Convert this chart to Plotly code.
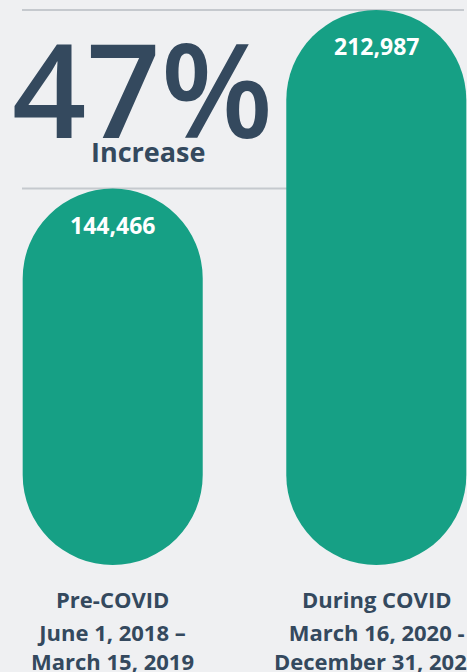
import plotly.graph_objects as go

# ---- data ----
categories = ["Pre-COVID", "During COVID"]
period_start = ["June 1, 2018 –", "March 16, 2020 -"]
period_end = ["March 15, 2019", "December 31, 2020"]
values = [144466, 212987]
value_labels = ["144,466", "212,987"]
increase_label = "47%"
increase_caption = "Increase"

# ---- style ----
GREEN = "#16a085"
DARK = "#34495e"
BG = "#eff0f2"
RULE = "#c5c9ce"
FONT = "Open Sans"
W, H = 467, 672

xpos = list(range(len(categories)))
vmax = max(values)
# pixel geometry of the value scale (bottom of bars at 565px, top of max at 10px)
bar_px = 555.0
ylo = -(H - 565) / bar_px * vmax
yhi = vmax + 10 / bar_px * vmax
BW = 0.683

fig = go.Figure()
fig.add_trace(go.Bar(
    x=xpos, y=values, base=[0 for _ in values],
    width=BW, marker=dict(color=GREEN, line=dict(width=0), cornerradius="50%"),
    hoverinfo="skip", showlegend=False,
))

shapes = []
for v in values:
    shapes.append(dict(type="line", xref="paper", yref="y", x0=22 / W, x1=464 / W,
                       y0=v, y1=v, line=dict(color=RULE, width=2), layer="below"))

ann = []
for xi, lab, v in zip(xpos, value_labels, values):
    ann.append(dict(x=xi, y=v, xref="x", yref="y", text=lab, showarrow=False,
                    xanchor="center", yshift=-36,
                    font=dict(family=FONT, size=23, color="white", weight=700)))
for xi, c, s, e in zip(xpos, categories, period_start, period_end):
    ann.append(dict(x=xi, y=1 - 599 / H, xref="x", yref="paper", text=c, showarrow=False,
                    xanchor="center", yanchor="middle",
                    font=dict(family=FONT, size=22, color=DARK, weight=700)))
    ann.append(dict(x=xi, y=1 - 646.5 / H, xref="x", yref="paper", text=s + "<br>" + e,
                    showarrow=False, xanchor="center", yanchor="middle",
                    font=dict(family=FONT, size=22, color=DARK, weight=700)))
ann.append(dict(x=142 / W, y=1 - 88 / H, xref="paper", yref="paper", text=increase_label,
                showarrow=False, xanchor="center", yanchor="middle",
                font=dict(family=FONT, size=130, color=DARK, weight=600)))
ann.append(dict(x=148 / W, y=1 - 152 / H, xref="paper", yref="paper", text=increase_caption,
                showarrow=False, xanchor="center", yanchor="middle",
                font=dict(family=FONT, size=27, color=DARK, weight=700)))

spacing = 263.6
x_lo = -112.7 / spacing
x_hi = x_lo + W / spacing

fig.update_layout(
    width=W, height=H, margin=dict(l=0, r=0, t=0, b=0),
    paper_bgcolor=BG, plot_bgcolor=BG, barmode="overlay",
    xaxis=dict(range=[x_lo, x_hi], visible=False, fixedrange=True),
    yaxis=dict(range=[ylo, yhi], visible=False, fixedrange=True),
    shapes=shapes, annotations=ann, showlegend=False,
)

fig.write_html("out.html", config={"displayModeBar": False},
               post_script="document.body.style.margin='0';document.body.style.overflow='hidden';")
